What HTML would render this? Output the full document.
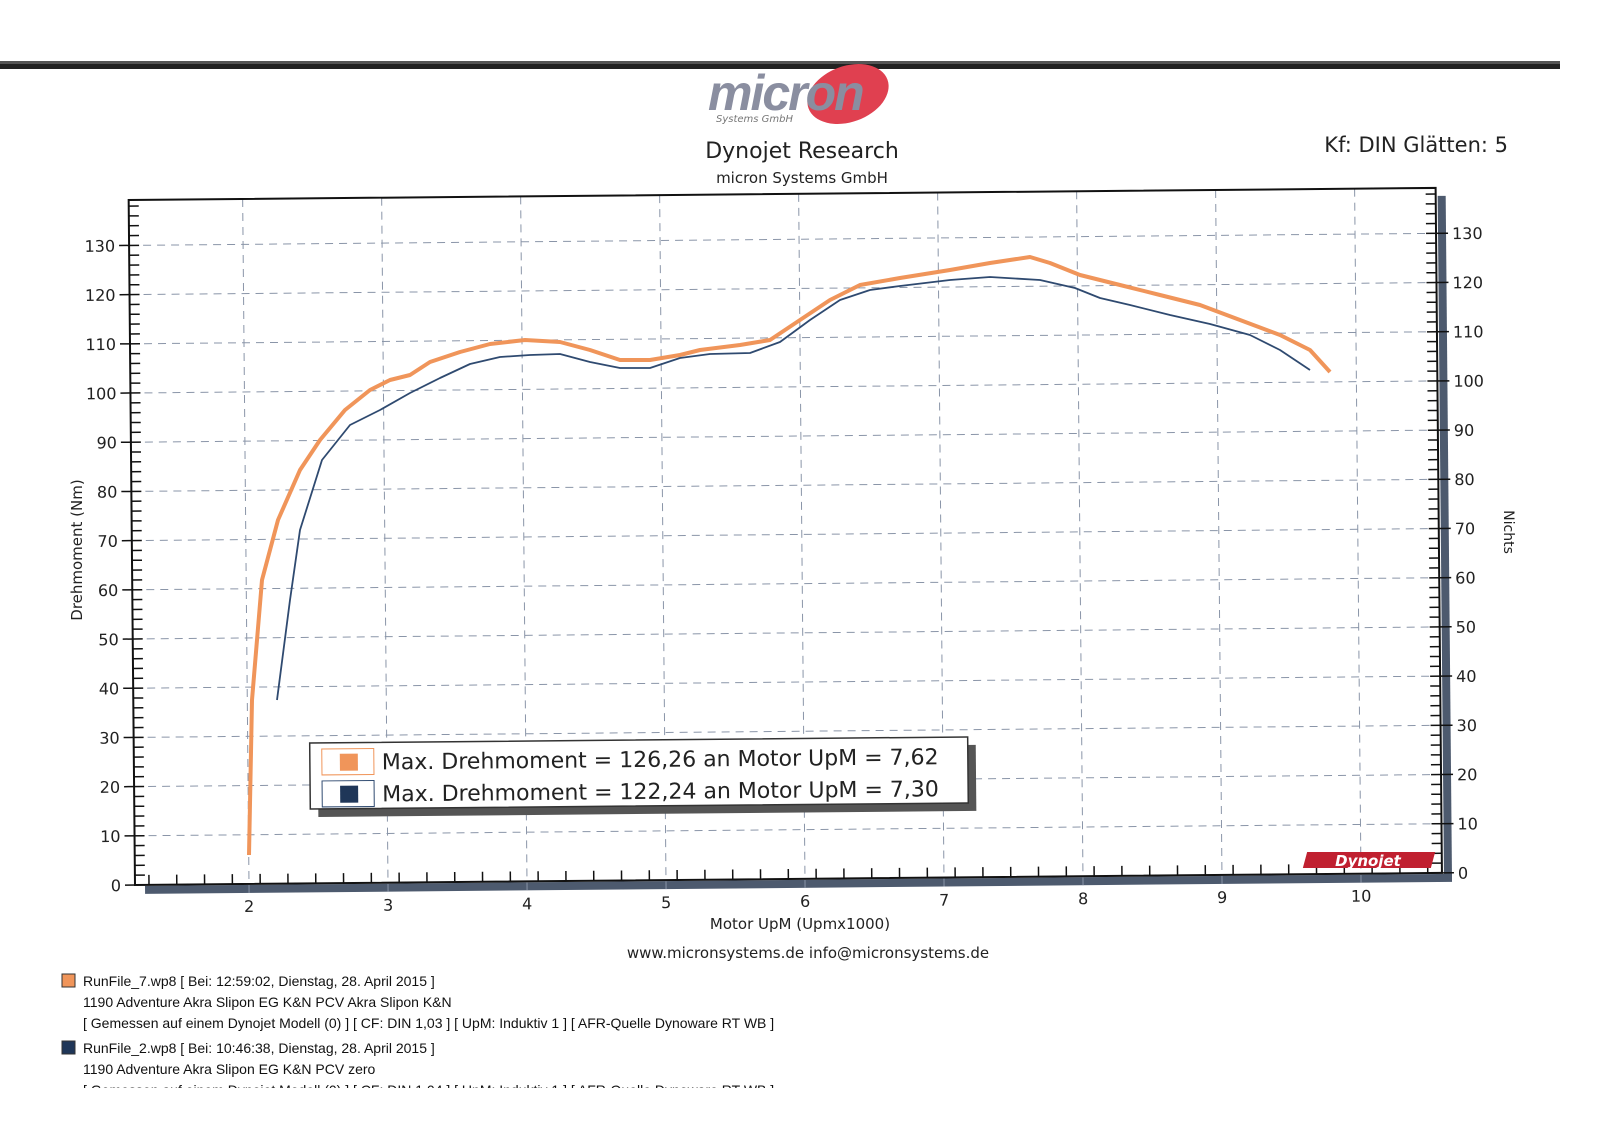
<!DOCTYPE html>
<html><head><meta charset="utf-8"><style>
html,body{margin:0;padding:0;background:#fff;}
body{width:1600px;height:1121px;overflow:hidden;position:relative;font-family:"Liberation Sans","DejaVu Sans",sans-serif;}
</style></head><body>
<svg id="s" width="1600" height="1121" viewBox="0 0 1600 1121" xmlns="http://www.w3.org/2000/svg" font-family="'DejaVu Sans','Liberation Sans',sans-serif">
<rect x="0" y="61" width="1560" height="3" fill="#555"/>
<rect x="0" y="64" width="1560" height="5" fill="#222"/>
<!-- logo -->
<ellipse cx="848" cy="94" rx="42" ry="28" fill="#e04050" transform="rotate(-20 848 94)"/>
<text x="708" y="110" font-size="50" font-style="italic" font-weight="bold" fill="#8a8ea0" font-family="'Liberation Sans',sans-serif" letter-spacing="-2">micron</text>
<text x="716" y="122" font-size="10" font-style="italic" fill="#777">Systems GmbH</text>
<text x="802" y="158" font-size="22" text-anchor="middle" fill="#222">Dynojet Research</text>
<text x="802" y="183" font-size="15" text-anchor="middle" fill="#222">micron Systems GmbH</text>
<text x="1508" y="152" font-size="21" text-anchor="end" fill="#222">Kf: DIN Glätten: 5</text>
<g id="g" transform="rotate(-0.53 135 885)"></g>
<!-- curves -->
<polyline fill="none" stroke="#f0955a" stroke-width="4" stroke-linejoin="round" points="249,855 252,700 262,580 278,520 300,470 320,440 345,410 370,390 390,380 410,375 430,362 460,352 490,344 525,340 560,342 590,350 620,360 650,360 680,355 700,350 740,345 770,340 800,320 830,300 860,285 900,278 950,270 990,263 1030,257 1050,263 1080,275 1120,285 1160,295 1200,305 1240,320 1280,335 1310,350 1330,372"/>
<polyline fill="none" stroke="#2f4a70" stroke-width="1.8" stroke-linejoin="round" points="277,700 290,600 300,530 322,460 350,425 380,410 410,393 440,378 470,364 500,357 530,355 560,354 590,362 620,368 650,368 680,358 710,354 750,353 780,342 810,320 840,300 870,290 900,286 950,280 990,277 1040,280 1075,288 1100,298 1130,305 1170,315 1210,324 1250,335 1280,350 1310,370"/>
<!-- legend -->
<g transform="rotate(-0.53 640 775)">
<rect x="318" y="748" width="658" height="66" fill="#555"/>
<rect x="310" y="740" width="658" height="66" fill="#fff" stroke="#333" stroke-width="1.5"/>
<rect x="322" y="746" width="52" height="26" fill="#fff" stroke="#f0955a"/>
<rect x="340" y="751" width="18" height="17" fill="#f0955a"/>
<rect x="322" y="778" width="52" height="26" fill="#fff" stroke="#2f4a70"/>
<rect x="340" y="783" width="18" height="17" fill="#1f3658"/>
<text x="382" y="767" font-size="22" fill="#222">Max. Drehmoment = 126,26 an Motor UpM = 7,62</text>
<text x="382" y="799" font-size="22" fill="#222">Max. Drehmoment = 122,24 an Motor UpM = 7,30</text>
</g>
<text x="82" y="550" font-size="15" fill="#222" text-anchor="middle" transform="rotate(-90 82 550)">Drehmoment (Nm)</text>
<text x="1504" y="532" font-size="14" fill="#222" text-anchor="middle" transform="rotate(90 1504 532)">Nichts</text>
<text x="800" y="929" font-size="15" fill="#222" text-anchor="middle">Motor UpM (Upmx1000)</text>
<text x="808" y="958" font-size="15" fill="#222" text-anchor="middle">www.micronsystems.de info@micronsystems.de</text>
<rect x="1305" y="852" width="128" height="16" fill="#c02030" transform="skewX(-15)" transform-origin="1370 860"/>
<text x="1368" y="866" font-size="15" font-style="italic" font-weight="bold" fill="#fff" text-anchor="middle">Dynojet</text>
<g font-size="14" fill="#111" font-family="'Liberation Sans',sans-serif">
<rect x="62" y="974" width="13" height="13" fill="#f0955a" stroke="#333"/>
<text x="83" y="986">RunFile_7.wp8 [ Bei: 12:59:02, Dienstag, 28. April 2015 ]</text>
<text x="83" y="1007">1190 Adventure Akra Slipon EG K&amp;N PCV Akra Slipon K&amp;N</text>
<text x="83" y="1028">[ Gemessen auf einem Dynojet Modell (0) ]   [ CF: DIN 1,03 ]   [ UpM: Induktiv 1 ]   [ AFR-Quelle  Dynoware RT WB ]</text>
<rect x="62" y="1041" width="13" height="13" fill="#1f3658" stroke="#333"/>
<text x="83" y="1053">RunFile_2.wp8 [ Bei: 10:46:38, Dienstag, 28. April 2015 ]</text>
<text x="83" y="1074">1190 Adventure Akra Slipon EG K&amp;N PCV zero</text>
<text x="83" y="1095">[ Gemessen auf einem Dynojet Modell (0) ]   [ CF: DIN 1,04 ]   [ UpM: Induktiv 1 ]   [ AFR-Quelle  Dynoware RT WB ]</text>
</g>
<rect x="0" y="1088" width="1600" height="40" fill="#fff"/>
</svg>
<script>
var g=document.getElementById('g'),h='';
var L=135,R=1442,B=885,T=200,py=4.92;
function Y(v){return B-v*py;}function X(r){return 249+(r-2)*139;}
h+='<rect x="'+(R+2)+'" y="'+(T+8)+'" width="8" height="'+(B-T)+'" fill="#4d5a6e"/>';
h+='<rect x="'+(L+10)+'" y="'+(B+1)+'" width="'+(R-L)+'" height="8" fill="#4d5a6e"/>';
for(var v=10;v<=130;v+=10)h+='<line x1="'+L+'" x2="'+R+'" y1="'+Y(v)+'" y2="'+Y(v)+'" stroke="#8a95a8" stroke-dasharray="8,6" stroke-width="1"/>';
for(var r=2;r<=10;r++)h+='<line x1="'+X(r)+'" x2="'+X(r)+'" y1="'+T+'" y2="'+(B+12)+'" stroke="#8a95a8" stroke-dasharray="8,6" stroke-width="1"/>';
h+='<rect x="'+L+'" y="'+T+'" width="'+(R-L)+'" height="'+(B-T)+'" fill="none" stroke="#111" stroke-width="2"/>';
for(var v=0;v<=140;v+=2){var y=Y(v);if(y<T)break;var m=v%10==0;
h+='<line x1="'+(m?L-10:L)+'" x2="'+(L+10)+'" y1="'+y+'" y2="'+y+'" stroke="#111" stroke-width="1.5"/>';
h+='<line x1="'+(R-10)+'" x2="'+(m?R+12:R)+'" y1="'+y+'" y2="'+y+'" stroke="#111" stroke-width="1.5"/>';
if(m){h+='<text x="'+(L-14)+'" y="'+(y+6)+'" font-size="16" text-anchor="end" fill="#222">'+v+'</text>';
h+='<text x="'+(R+16)+'" y="'+(y+6)+'" font-size="16" fill="#222">'+v+'</text>';}}
for(var r=1.4;r<=10.6;r+=0.2){var x=L+14+(r-1.4)*139;if(x>R)break;
h+='<line x1="'+x+'" x2="'+x+'" y1="'+B+'" y2="'+(B-10)+'" stroke="#111" stroke-width="1.5"/>';}
for(var r=2;r<=10;r++)h+='<text x="'+X(r)+'" y="'+(B+28)+'" font-size="16" text-anchor="middle" fill="#222">'+r+'</text>';
g.innerHTML=h;
</script>
</body></html>
